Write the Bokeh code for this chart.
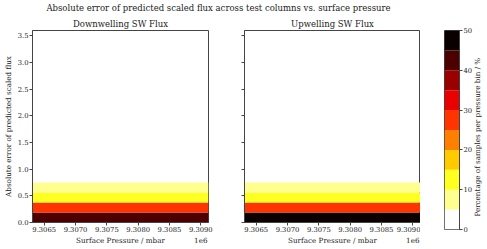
import math
from bokeh.plotting import figure
from bokeh.models import Range1d, FixedTicker, Label, ColumnDataSource, Title, LinearAxis
from bokeh.layouts import column, row
from bokeh.transform import linear_cmap
from bokeh.embed import file_html
from bokeh.resources import INLINE

# ---- data ----
main_title = "Absolute error of predicted scaled flux across test columns vs. surface pressure"
panel_titles = ["Downwelling SW Flux", "Upwelling SW Flux"]
pressure_edges = [9306313, 9309123]
error_bin_lo = [0.0, 0.1875, 0.375, 0.5625]
error_bin_hi = [0.1875, 0.375, 0.5625, 0.75]
pct_down = [42, 27, 12, 7]
pct_up = [47, 27, 12, 7]
levels = [0, 5, 10, 15, 20, 25, 30, 35, 40, 45, 50]
palette = ["#ffffff", "#ffff8f", "#ffff20", "#ffca00", "#ff8000",
           "#ff3500", "#e90000", "#9b0000", "#4d0000", "#0b0000"]
x_ticks = [9306500, 9307000, 9307500, 9308000, 9308500, 9309000]
x_tick_labels = ["9.3065", "9.3070", "9.3075", "9.3080", "9.3085", "9.3090"]
x_offset_text = "1e6"
y_ticks = [0.0, 0.5, 1.0, 1.5, 2.0, 2.5, 3.0, 3.5]
y_max = 3.6
cbar_ticks = [0, 10, 20, 30, 40, 50]
x_label = "Surface Pressure / mbar"
y_label = "Absolute error of predicted scaled flux"
cbar_label = "Percentage of samples per pressure bin / %"

FONT = "DejaVu Serif"
TXT = "#222222"
LINE = "#444444"
FS = "6.8px"
FS_LABEL = "7.2px"


def style_axis(ax, label_standoff=2):
    ax.major_label_text_font = FONT
    ax.major_label_text_font_size = FS
    ax.major_label_text_color = TXT
    ax.axis_label_text_font = FONT
    ax.axis_label_text_font_size = FS_LABEL
    ax.axis_label_text_font_style = "normal"
    ax.axis_label_text_color = TXT
    ax.axis_line_color = LINE
    ax.major_tick_line_color = LINE
    ax.major_tick_out = 3
    ax.major_tick_in = 0
    ax.minor_tick_line_color = None
    ax.major_label_standoff = 1
    ax.axis_label_standoff = label_standoff


def text_axis(ax, standoff, size):
    # an axis that only carries text (no line, no tick marks)
    ax.major_label_text_font = FONT
    ax.major_label_text_font_size = size
    ax.major_label_text_color = TXT
    ax.axis_line_color = None
    ax.major_tick_line_color = None
    ax.minor_tick_line_color = None
    ax.major_tick_out = 0
    ax.major_tick_in = 0
    ax.major_label_standoff = standoff


def panel(title, pct, show_ylabels, bl, br):
    p = figure(frame_width=176, frame_height=192, output_backend="svg",
               toolbar_location=None,
               x_range=Range1d(pressure_edges[0], pressure_edges[1]),
               y_range=Range1d(0, y_max),
               min_border_left=bl, min_border_right=br, min_border_top=16,
               min_border_bottom=27)
    p.title = Title(text=title, align="center", text_font=FONT, text_font_size="8.5px",
                    text_font_style="normal", text_color=TXT, standoff=3)
    src = ColumnDataSource(dict(left=[pressure_edges[0]] * len(pct),
                                right=[pressure_edges[1]] * len(pct),
                                bottom=error_bin_lo, top=error_bin_hi, pct=pct))
    p.quad(left="left", right="right", bottom="bottom", top="top", source=src,
           fill_color=linear_cmap("pct", palette, levels[0], levels[-1]),
           line_color=None)
    p.grid.visible = False
    p.outline_line_color = LINE
    p.background_fill_color = "white"
    p.border_fill_color = "white"
    p.xaxis.ticker = FixedTicker(ticks=x_ticks)
    p.xaxis.major_label_overrides = {t: l for t, l in zip(x_ticks, x_tick_labels)}
    p.yaxis.ticker = FixedTicker(ticks=y_ticks)
    style_axis(p.xaxis[0])
    style_axis(p.yaxis[0], label_standoff=2)
    if show_ylabels:
        p.yaxis.major_label_overrides = {t: f"{t:.1f}" for t in y_ticks}
        p.yaxis.axis_label = y_label
    else:
        p.yaxis.major_label_overrides = {t: "" for t in y_ticks}
    # second line below the x axis: axis title and the offset text
    mid = (pressure_edges[0] + pressure_edges[1]) / 2
    ax2 = LinearAxis(ticker=FixedTicker(ticks=[mid, x_ticks[-1]]),
                     major_label_overrides={mid: x_label, x_ticks[-1]: x_offset_text})
    text_axis(ax2, 1, FS_LABEL)
    p.add_layout(ax2, "below")
    return p


p1 = panel(panel_titles[0], pct_down, True, 31, 18)
p2 = panel(panel_titles[1], pct_up, False, 18, 0)

# colour bar
cb = figure(frame_width=15, frame_height=199, output_backend="svg", toolbar_location=None,
            x_range=Range1d(0, 1), y_range=Range1d(levels[0], levels[-1]),
            min_border_left=24, min_border_right=29, min_border_top=11,
            min_border_bottom=25, x_axis_location=None, y_axis_location="right")
cb.quad(left=0, right=1, bottom=levels[:-1], top=levels[1:], fill_color=palette,
        line_color=None)
cb.grid.visible = False
cb.outline_line_color = LINE
cb.yaxis.ticker = FixedTicker(ticks=cbar_ticks)
style_axis(cb.yaxis[0])
cb_mid = (levels[0] + levels[-1]) / 2
cax2 = LinearAxis(ticker=FixedTicker(ticks=[cb_mid]),
                  major_label_overrides={cb_mid: cbar_label},
                  major_label_orientation=math.pi / 2)
text_axis(cax2, 2, FS_LABEL)
cb.add_layout(cax2, "right")

# title
tf = figure(width=487, height=14, output_backend="svg", toolbar_location=None,
            x_range=Range1d(0, 1), y_range=Range1d(0, 1), min_border=0,
            x_axis_location=None, y_axis_location=None)
tf.outline_line_color = None
tf.grid.visible = False
tf.add_layout(Label(x=0.4476, y=0.43, text=main_title, text_align="center",
                    text_baseline="middle", text_font=FONT, text_font_size="8.5px",
                    text_color=TXT))

layout = column(tf, row(p1, p2, cb))
open("out.html", "w").write(file_html(layout, INLINE))
